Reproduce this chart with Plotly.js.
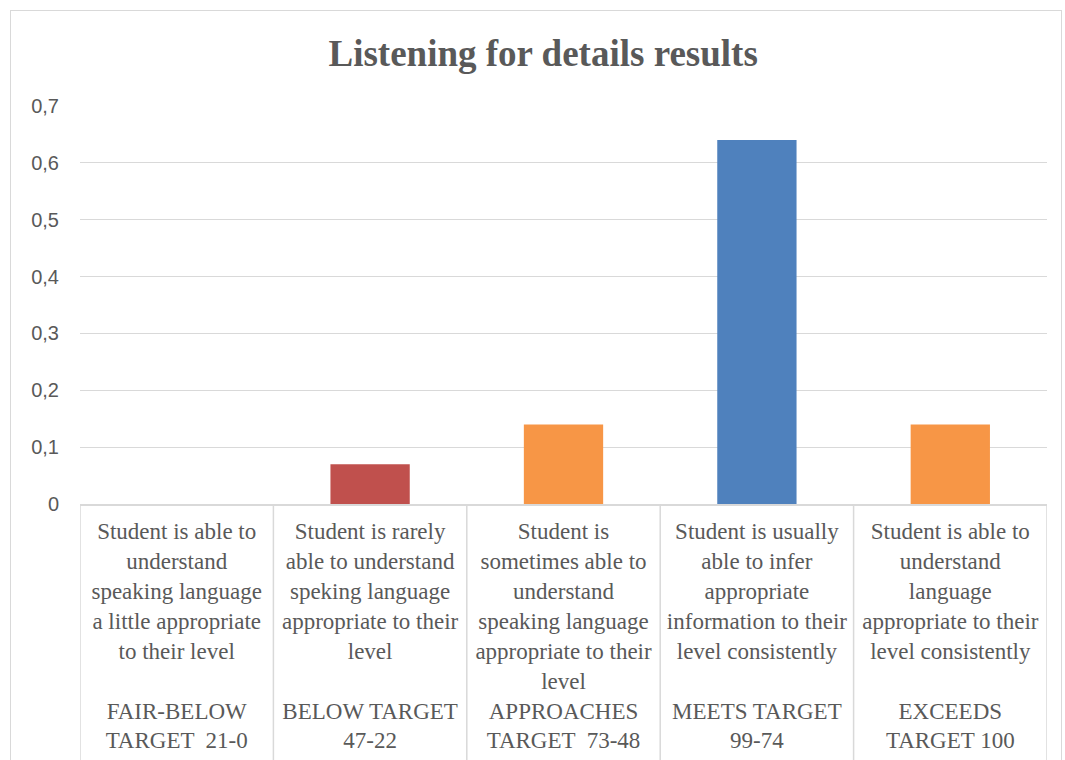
<!DOCTYPE html>
<html>
<head>
<meta charset="utf-8">
<script src="https://cdn.plot.ly/plotly-3.0.1.min.js"></script>
<style>
  html, body { margin: 0; padding: 0; width: 1065px; height: 760px; overflow: hidden; background: #fff; }
  #frame { position: absolute; left: 10px; top: 10px; width: 1052px; height: 800px; border: 1.5px solid #d9d9d9; box-sizing: border-box; }
  #chart { position: absolute; left: 0; top: 0; width: 1065px; height: 760px; }
</style>
</head>
<body>
<div id="frame"></div>
<div id="chart"></div>
<script>
const targets = [
  "FAIR-BELOW<br>TARGET  21-0",
  "BELOW TARGET<br>47-22",
  "APPROACHES<br>TARGET  73-48",
  "MEETS TARGET<br>99-74",
  "EXCEEDS<br>TARGET 100"
];
const descriptions = [
  "Student is able to<br>understand<br>speaking language<br>a little appropriate<br>to their level",
  "Student is rarely<br>able to understand<br>speking language<br>appropriate to their<br>level",
  "Student is<br>sometimes able to<br>understand<br>speaking language<br>appropriate to their<br>level",
  "Student is usually<br>able to infer<br>appropriate<br>information to their<br>level consistently",
  "Student is able to<br>understand<br>language<br>appropriate to their<br>level consistently"
];
const values = [0, 0.07, 0.14, 0.64, 0.14];
const barColors = ["#C0504D", "#C0504D", "#F79646", "#4F81BD", "#F79646"];
const titleText = "Listening for details results";

// Two-level category labels: description on top, target level aligned below.
const lineCounts = descriptions.map(d => d.split("<br>").length);
const maxLines = Math.max(...lineCounts);
const labels = descriptions.map((d, i) =>
  d + "<br>&nbsp;".repeat(maxLines - lineCounts[i]) + "<br>" + targets[i]
);

const trace = {
  type: "bar",
  x: [0, 1, 2, 3, 4],
  y: values,
  marker: { color: barColors },
  width: 0.41,
  hoverinfo: "skip"
};

const layout = {
  width: 1065,
  height: 760,
  paper_bgcolor: "rgba(0,0,0,0)",
  plot_bgcolor: "rgba(0,0,0,0)",
  separators: ",.",
  showlegend: false,
  margin: { l: 80, r: 18, t: 106, b: 256, pad: 0 },
  title: {
    text: "<b>" + titleText + "</b>",
    font: { family: "Liberation Serif, Times New Roman, serif", size: 37, color: "#595959" },
    x: 0.51, xanchor: "center",
    y: 0.93, yanchor: "middle"
  },
  xaxis: {
    type: "linear",
    range: [-0.5, 4.5],
    tickmode: "array",
    tickvals: [0, 1, 2, 3, 4],
    ticktext: labels,
    tickangle: 0,
    tickfont: { family: "Liberation Serif, Times New Roman, serif", size: 23, color: "#595959" },
    showline: true,
    linecolor: "#D9D9D9",
    linewidth: 1.5,
    showgrid: false,
    zeroline: false,
    ticks: "",
    ticklabelstandoff: 6
  },
  yaxis: {
    range: [0, 0.7],
    dtick: 0.1,
    showgrid: true,
    gridcolor: "#D9D9D9",
    gridwidth: 1,
    zeroline: false,
    showline: false,
    ticks: "",
    ticklabelstandoff: 20,
    tickfont: { family: "Liberation Sans, Arial, sans-serif", size: 20, color: "#595959" }
  },
  shapes: [-0.5, 0.5, 1.5, 2.5, 3.5, 4.5].map(b => ({
    type: "line", xref: "x", yref: "paper",
    x0: b, x1: b, y0: 0, y1: -0.7,
    line: { color: "#D9D9D9", width: 1.5 },
    layer: "above"
  }))
};

Plotly.newPlot("chart", [trace], layout, { displayModeBar: false, staticPlot: true });
</script>
</body>
</html>
